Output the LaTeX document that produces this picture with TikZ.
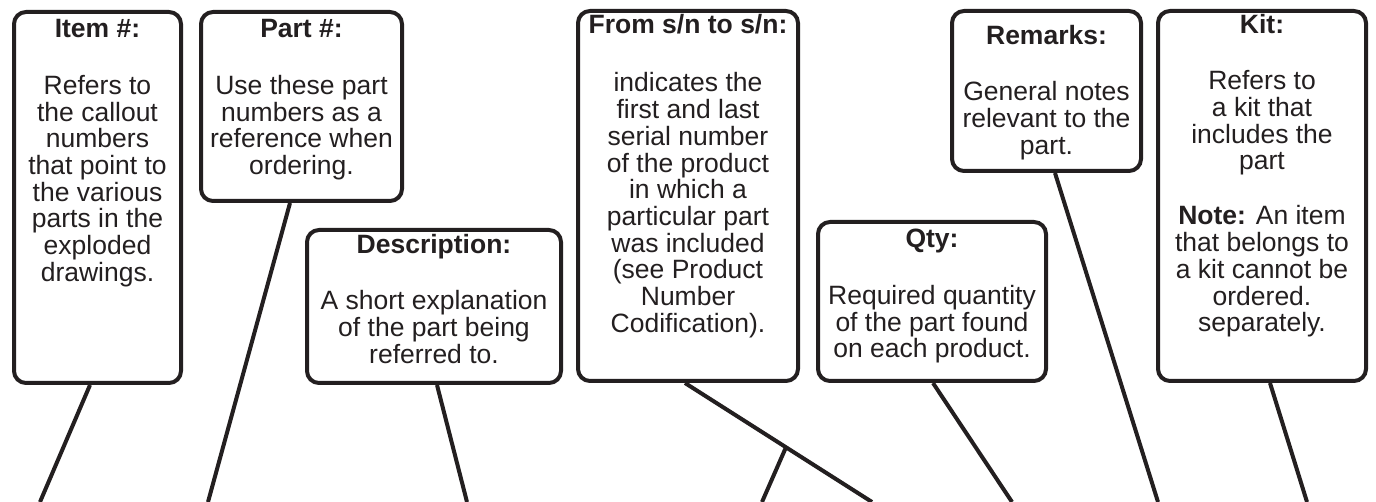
\documentclass[tikz,border=0pt]{standalone}
\usepackage{fontspec}
\setmainfont{Liberation Sans}
\usetikzlibrary{calc}
\definecolor{ink}{RGB}{35,31,32}
\tikzset{
  callbox/.style={draw=ink, line width=4pt, rounded corners=12pt, fill=white, inner sep=0pt},
  calltext/.style={anchor=north, align=center, inner sep=0pt, text=ink,
    font=\fontsize{26.5}{26.7}\selectfont},
  leader/.style={draw=ink, line width=4pt}
}
\newcommand{\gapline}{\\[28.3pt]}
\begin{document}
\begin{tikzpicture}[x=1pt,y=-1pt]
\useasboundingbox (0,0) rectangle (1376,502);
% boxes
\node[callbox, minimum width=167pt, minimum height=371pt] (item) at (97.5,197.5) {};
\node[callbox, minimum width=201pt, minimum height=189pt] (part) at (301.5,106.5) {};
\node[callbox, minimum width=254pt, minimum height=153pt] (desc) at (434,306.5) {};
\node[callbox, minimum width=220pt, minimum height=370pt] (from) at (688,196) {};
\node[callbox, minimum width=228pt, minimum height=159pt] (qty) at (932,301.5) {};
\node[callbox, minimum width=189pt, minimum height=160pt] (rem) at (1046.5,91) {};
\node[callbox, minimum width=208pt, minimum height=370pt] (kit) at (1262,196) {};
% texts
\node[calltext] (itemT) at (97.5,19) {\strut\textbf{Item \#:}\gapline Refers to\\the callout\\numbers\\that point to\\the various\\parts in the\\exploded\\drawings.};
\node[calltext] (partT) at (301.5,19) {\strut\textbf{Part \#:}\gapline Use these part\\numbers as a\\reference when\\ordering.};
\node[calltext] (descT) at (434,234) {\strut\textbf{Description:}\gapline A short explanation\\of the part being\\referred to.};
\node[calltext] (fromT) at (688,14) {\strut\textbf{From s/n to s/n:}\\[30.3pt]indicates the\\first and last\\serial number\\of the product\\in which a\\particular part\\was included\\(see Product\\Number\\Codification).};
\node[calltext] (qtyT) at (932,229) {\strut\textbf{Qty:}\gapline Required quantity\\of the part found\\on each product.};
\node[calltext] (remT) at (1046.5,25) {\strut\textbf{Remarks:}\gapline General notes\\relevant to the\\part.};
\node[calltext] (kitT) at (1262,14) {\strut\textbf{Kit:}\gapline Refers to\\a kit that\\includes the\\part\gapline\textbf{Note:} An item\\that belongs to\\a kit cannot be\\ordered.\\separately.};
% leader ends
\coordinate (itemE) at (40,502);
\coordinate (partE) at (208,502);
\coordinate (descE) at (467,502);
\coordinate (fromE) at (872,502);
\coordinate (fromE2) at (762,502);
\coordinate (qtyE) at (1012,502);
\coordinate (remE) at (1158,502);
\coordinate (kitE) at (1307,502);
% leaders
\draw[leader] ([xshift=-7.5pt]item.south) -- (itemE);
\draw[leader] ([xshift=-11.5pt]part.south) -- (partE);
\draw[leader] ([xshift=3pt]desc.south) -- (descE);
\draw[leader] ([xshift=-3pt]from.south) -- (fromE) coordinate[pos=0.54] (fromJ);
\draw[leader] (fromJ) -- (fromE2);
\draw[leader] ([xshift=1pt]qty.south) -- (qtyE);
\draw[leader] ([xshift=8.5pt]rem.south) -- (remE);
\draw[leader] ([xshift=8pt]kit.south) -- (kitE);
\end{tikzpicture}
\end{document}
